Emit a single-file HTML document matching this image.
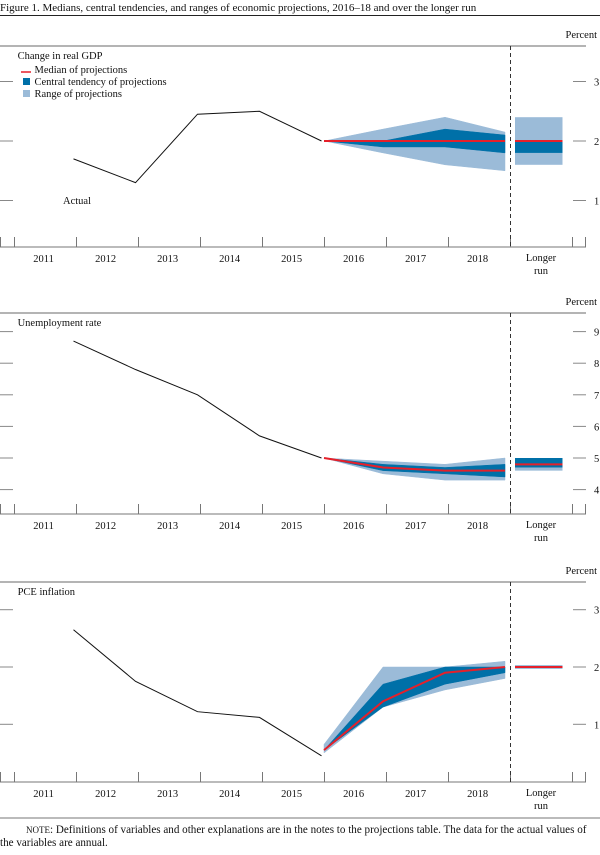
<!DOCTYPE html>
<html><head><meta charset="utf-8"><style>
html,body{margin:0;padding:0;background:#fff;}
svg text{font-family:"Liberation Serif",serif;fill:#111;}
</style></head><body>
<svg id="chart" width="600" height="850" xmlns="http://www.w3.org/2000/svg">
<text x="0" y="11" font-size="11">Figure 1. Medians, central tendencies, and ranges of economic projections, 2016–18 and over the longer run</text>
<line x1="0" y1="15.5" x2="600" y2="15.5" stroke="#222" stroke-width="1"/>
<line x1="0" y1="818" x2="600" y2="818" stroke="#777" stroke-width="1"/>
<text x="26" y="833" font-size="11.1"><tspan font-size="9">NOTE</tspan>: Definitions of variables and other explanations are in the notes to the projections table. The data for the actual values of</text>
<text x="0" y="846" font-size="11.1">the variables are annual.</text>
</svg>
<script>
// ---- data ----
const years = ["2011","2012","2013","2014","2015","2016","2017","2018"];
const projYears = ["2015","2016","2017","2018"];
// GDP
const gdpActual = [1.7,1.3,2.45,2.5,2.0];
const gdpMedian = [2.0,2.0,2.0,2.0];
const gdpCtLow = [2.0,1.9,1.9,1.8];
const gdpCtHigh = [2.0,2.0,2.2,2.1];
const gdpRangeLow = [2.0,1.8,1.6,1.5];
const gdpRangeHigh = [2.0,2.2,2.4,2.15];
const gdpLR = {median:2.0, ctLow:1.8, ctHigh:2.0, rangeLow:1.6, rangeHigh:2.4};
const gdpTicks = [1,2,3];
// Unemployment
const unActual = [8.7,7.8,7.0,5.7,5.0];
const unMedian = [5.0,4.7,4.6,4.6];
const unCtLow = [5.0,4.6,4.5,4.4];
const unCtHigh = [5.0,4.8,4.7,4.8];
const unRangeLow = [5.0,4.5,4.3,4.3];
const unRangeHigh = [5.0,4.9,4.8,5.0];
const unLR = {median:4.8, ctLow:4.7, ctHigh:5.0, rangeLow:4.6, rangeHigh:5.0};
const unTicks = [4,5,6,7,8,9];
// PCE
const pceActual = [2.65,1.75,1.22,1.12,0.45];
const pceMedian = [0.55,1.4,1.9,2.0];
const pceCtLow = [0.55,1.3,1.7,1.9];
const pceCtHigh = [0.55,1.7,2.0,2.0];
const pceRangeLow = [0.5,1.3,1.6,1.8];
const pceRangeHigh = [0.65,2.0,2.0,2.1];
const pceLR = {median:2.0, ctLow:1.98, ctHigh:2.02, rangeLow:1.97, rangeHigh:2.03};
const pceTicks = [1,2,3];

const NS="http://www.w3.org/2000/svg";
const svg=document.getElementById('chart');
function mk(tag,attrs,parent){const e=document.createElementNS(NS,tag);for(const k in attrs)e.setAttribute(k,attrs[k]);(parent||svg).appendChild(e);return e;}
const LIGHT="#9bbbd8", DARK="#0070a8", RED="#e5202a";
const STEP=62;

function panel(cfg){
  const g=mk('g',{});
  
  
  const top=cfg.top, bot=cfg.bot;
  const y=v=>cfg.y0+(cfg.yRef-v)*cfg.ppu;
  const xAct=i=>73.5+STEP*i;
  const xProj=i=>i===0?324:(383+STEP*(i-1)-(i===3?2:0));
  let e=mk('line',{x1:0,y1:top,x2:586,y2:top,stroke:'#888','stroke-width':1.2},g);
  
  e=mk('line',{x1:0,y1:bot,x2:586,y2:bot,stroke:'#777','stroke-width':1},g);
  
  const xt=[0.5,14.5,76.5,138.5,200.5,262.5,324.5,386.5,448.5,510.5,572.5,585.5];
  xt.forEach(x=>{const t=mk('line',{x1:x,y1:bot-10,x2:x,y2:bot,stroke:'#777','stroke-width':1},g);
    });
  years.forEach((yr,i)=>{const t=mk('text',{x:43.6+STEP*i,y:bot+15,'font-size':10.5,'text-anchor':'middle'},g);t.textContent=yr;
    });
  let t=mk('text',{x:541,y:bot+14,'font-size':10.5,'text-anchor':'middle'},g);t.textContent='Longer';
  
  t=mk('text',{x:541,y:bot+27,'font-size':10.5,'text-anchor':'middle'},g);t.textContent='run';
  
  t=mk('text',{x:597,y:top-8,'font-size':10.5,'text-anchor':'end'},g);t.textContent='Percent';
  
  t=mk('text',{x:17.6,y:top+13,'font-size':10.5},g);t.textContent=cfg.title;
  
  cfg.ticks.forEach(v=>{
    const yy=y(v);
    let l=mk('line',{x1:0,y1:yy,x2:13,y2:yy,stroke:'#888','stroke-width':1},g);
    
    l=mk('line',{x1:573,y1:yy,x2:586,y2:yy,stroke:'#888','stroke-width':1},g);
    
    const lb=mk('text',{x:594,y:yy+4,'font-size':10.5},g);lb.textContent=v;
    
  });
  function band(lo,hi,col,nm){
    const up=hi.map((v,i)=>xProj(i)+','+y(v));
    const dn=lo.map((v,i)=>xProj(i)+','+y(v)).reverse();
    const p=mk('polygon',{points:up.concat(dn).join(' '),fill:col,stroke:col,'stroke-width':0.5},g);
    
  }
  band(cfg.rLo,cfg.rHi,LIGHT,'range-band');
  band(cfg.cLo,cfg.cHi,DARK,'central-tendency-band');
  let pl=mk('polyline',{points:cfg.med.map((v,i)=>xProj(i)+','+y(v)).join(' '),fill:'none',stroke:RED,'stroke-width':2},g);
  
  pl=mk('polyline',{points:cfg.actual.map((v,i)=>xAct(i)+','+y(v)).join(' '),fill:'none',stroke:'#111','stroke-width':1},g);
  
  const lr=cfg.lr;
  let r=mk('rect',{x:515,y:y(lr.rangeHigh),width:47.5,height:Math.max(1,y(lr.rangeLow)-y(lr.rangeHigh)),fill:LIGHT},g);
  
  r=mk('rect',{x:515,y:y(lr.ctHigh),width:47.5,height:Math.max(1,y(lr.ctLow)-y(lr.ctHigh)),fill:DARK},g);
  
  r=mk('line',{x1:515,y1:y(lr.median),x2:562.5,y2:y(lr.median),stroke:RED,'stroke-width':2},g);
  
  r=mk('line',{x1:510.5,y1:top,x2:510.5,y2:bot,stroke:'#333','stroke-width':1,'stroke-dasharray':'4,3'},g);
  
  return {g,y};
}

const p1=panel({name:'gdp',title:'Change in real GDP',top:46,bot:247,y0:141,yRef:2,ppu:59.5,ticks:gdpTicks,
  actual:gdpActual,med:gdpMedian,cLo:gdpCtLow,cHi:gdpCtHigh,rLo:gdpRangeLow,rHi:gdpRangeHigh,lr:gdpLR});
panel({name:'unemployment',title:'Unemployment rate',top:313,bot:514,y0:458,yRef:5,ppu:31.6,ticks:unTicks,
  actual:unActual,med:unMedian,cLo:unCtLow,cHi:unCtHigh,rLo:unRangeLow,rHi:unRangeHigh,lr:unLR});
panel({name:'pce',title:'PCE inflation',top:582,bot:782,y0:667,yRef:2,ppu:57.3,ticks:pceTicks,
  actual:pceActual,med:pceMedian,cLo:pceCtLow,cHi:pceCtHigh,rLo:pceRangeLow,rHi:pceRangeHigh,lr:pceLR});

const lg=mk('g',{});


let l=mk('line',{x1:21,y1:72,x2:31,y2:72,stroke:RED,'stroke-width':1.5},lg);


let tx=mk('text',{x:34.5,y:73,'font-size':10.5},lg);tx.textContent='Median of projections';


let s=mk('rect',{x:23,y:78,width:7,height:7,fill:DARK},lg);


tx=mk('text',{x:34.5,y:85,'font-size':10.5},lg);tx.textContent='Central tendency of projections';


s=mk('rect',{x:23,y:90,width:7,height:7,fill:LIGHT},lg);


tx=mk('text',{x:34.5,y:97,'font-size':10.5},lg);tx.textContent='Range of projections';


tx=mk('text',{x:63,y:204,'font-size':10.5},p1.g);tx.textContent='Actual';


</script>
</body></html>
